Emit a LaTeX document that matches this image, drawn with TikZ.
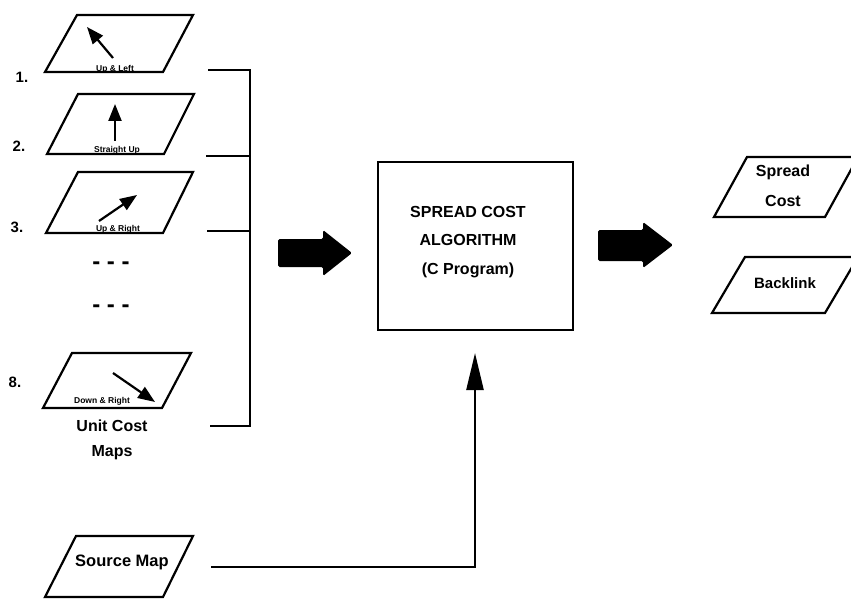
\documentclass[tikz,border=0pt]{standalone}
\usepackage{fontspec}
\setmainfont{Liberation Sans}
\usetikzlibrary{arrows.meta}
\begin{document}
\begin{tikzpicture}[x=1pt,y=-1pt,line join=miter,
  frame/.style={draw=black,line width=2.2pt},
  wire/.style={draw=black,line width=2.4pt},
  lbl/.style={font=\bfseries\fontsize{16}{16}\selectfont,inner sep=0pt},
  boxtext/.style={font=\bfseries\fontsize{16}{28.5}\selectfont,inner sep=0pt,align=center},
  tiny/.style={font=\bfseries\fontsize{8.5}{8.5}\selectfont,inner sep=0pt},
  num/.style={font=\bfseries\fontsize{15}{15}\selectfont,inner sep=0pt},
  dots/.style={font=\bfseries\fontsize{24}{24}\selectfont,inner sep=0pt},
  dir/.style={draw=black,line width=2.2pt,-{Triangle[length=17pt,width=13pt]}},
  block/.style={fill=black,rounded corners=1.5pt}]
\useasboundingbox (0,0) rectangle (851,599);

% unit cost maps (parallelograms)
\draw[frame] (77,15) -- (193,15) -- (163,72) -- (45,72) -- cycle;
\draw[frame] (78,94) -- (194,94) -- (164,154) -- (47,154) -- cycle;
\draw[frame] (78,172) -- (193,172) -- (163,233) -- (46,233) -- cycle;
\draw[frame] (72,353) -- (191,353) -- (162,408) -- (43,408) -- cycle;

% direction arrows inside the maps
\draw[dir] (113,58) -- (87,27);
\draw[dir] (115,141) -- (115,104);
\draw[dir] (99,221) -- (137,195);
\draw[dir] (113,373) -- (155,402);

% map captions
\node[tiny] (t1) at (115,69) {Up \& Left};
\node[tiny] (t2) at (117,150) {Straight Up};
\node[tiny] (t3) at (118,229) {Up \& Right};
\node[tiny] (t8) at (102,401) {Down \& Right};

% numbering
\node[num] (n1) at (22,77) {1.};
\node[num] (n2) at (19,146) {2.};
\node[num] (n3) at (17,227) {3.};
\node[num] (n8) at (15,382) {8.};

% ellipsis rows
\node[dots] (e1) at (111,266) {- - -};
\node[dots] (e2) at (111,309) {- - -};

% group caption
\node[lbl,align=center,font=\bfseries\fontsize{16}{25}\selectfont] (ucm) at (112,440) {Unit Cost\\Maps};

% bracket joining the maps
\coordinate (b1) at (208,70);
\coordinate (b2) at (206,156);
\coordinate (b3) at (207,231);
\coordinate (b8) at (210,426);
\coordinate (bx) at (250,70);
\draw[wire] (b1) -- (bx) |- (b8);
\draw[wire] (b2) -- (b2 -| bx);
\draw[wire] (b3) -- (b3 -| bx);

% block arrows
\fill[block] (278,239) -- (323,239) -- (323,230) -- (352,253) -- (323,276) -- (323,267) -- (278,267) -- cycle;
\fill[block] (598,230) -- (643,230) -- (643,222) -- (673,245) -- (643,268) -- (643,261) -- (598,261) -- cycle;

% algorithm box
\node[draw,line width=2.2pt,minimum width=195pt,minimum height=168pt,inner sep=0pt] (algo) at (475.5,246) {};
\node[boxtext] (algotext) at (468,242) {SPREAD COST\\ALGORITHM\\(C Program)};

% outputs
\draw[frame] (747,157) -- (858,157) -- (825,217) -- (714,217) -- cycle;
\draw[frame] (745,257) -- (858,257) -- (825,313) -- (712,313) -- cycle;
\node[lbl,align=center,font=\bfseries\fontsize{16}{30}\selectfont] (spread) at (783,186) {Spread\\Cost};
\node[lbl,font=\bfseries\fontsize{15}{15}\selectfont] (back) at (785,283) {Backlink};

% source map and its feed into the algorithm
\draw[frame] (76,536) -- (193,536) -- (163,597) -- (45,597) -- cycle;
\node[lbl,font=\bfseries\fontsize{16.5}{16.5}\selectfont] (src) at (122,562) {Source Map};
\coordinate (srcout) at (211,567);
\coordinate (feed) at (475,353);
\draw[wire,-{Triangle[length=37pt,width=17pt]}] (srcout) -| (feed);
\end{tikzpicture}
\end{document}
